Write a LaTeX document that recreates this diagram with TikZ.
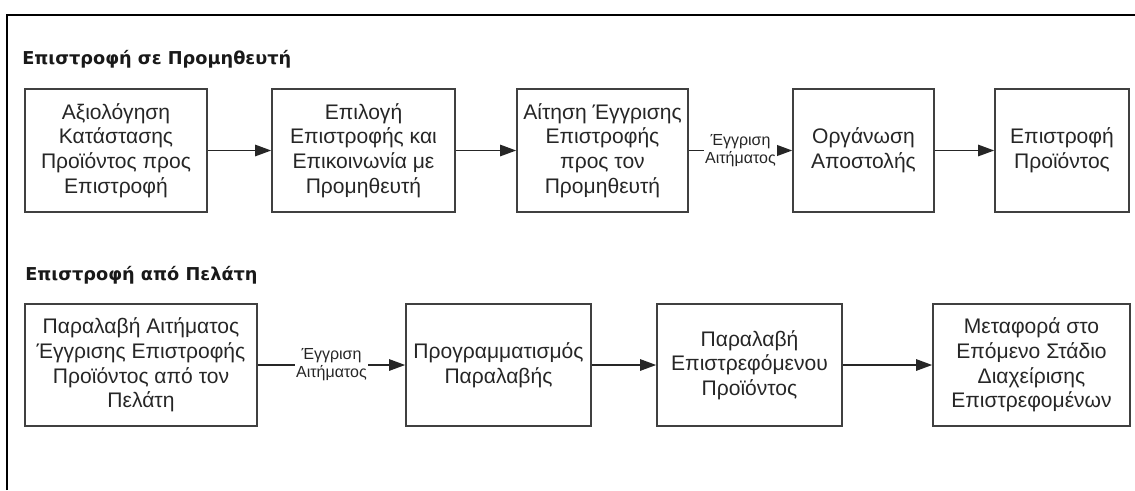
\documentclass[tikz,border=0pt]{standalone}
\usepackage{fontspec}
\setmainfont{Liberation Sans}
\newfontfamily\headfont{DejaVu Sans}
\usetikzlibrary{arrows.meta}
\begin{document}
\begin{tikzpicture}[x=0.75pt,y=-0.75pt,
  stepbox/.style={draw=black!75, line width=1.2pt, align=center, inner sep=2pt,
    text=black!85, font=\fontsize{15.8}{18.4}\selectfont},
  flow/.style={draw=black!85, line width=1.2pt, -{Triangle[length=12pt,width=8.5pt]}},
  edgelabel/.style={fill=white, inner sep=1pt, align=center, text=black!85,
    font=\fontsize{12}{13.5}\selectfont},
  heading/.style={anchor=west, inner sep=0pt, text=black!90,
    font=\headfont\bfseries\fontsize{13.3}{15}\selectfont},
  frame/.style={draw=black, line width=1.6pt}]
\useasboundingbox (0,0) rectangle (1135,490);
% frame
\draw[frame] (7,490) -- (7,15) -- (1135,15);

% upper process row
\node[heading] (h1) at (22,59) {Επιστροφή σε Προμηθευτή};
\node[stepbox, minimum width=136.5pt, minimum height=92.25pt] (a1) at (116,150.5)
  {Αξιολόγηση\\Κατάστασης\\Προϊόντος προς\\Επιστροφή};
\node[stepbox, minimum width=137.25pt, minimum height=92.25pt] (a2) at (363.5,150.5)
  {Επιλογή\\Επιστροφής και\\Επικοινωνία με\\Προμηθευτή};
\node[stepbox, minimum width=128.25pt, minimum height=92.25pt] (a3) at (602.5,150.5)
  {Αίτηση Έγγρισης\\Επιστροφής\\προς τον\\Προμηθευτή};
\node[stepbox, minimum width=105.75pt, minimum height=92.25pt] (a4) at (863.5,150.5)
  {Οργάνωση\\Αποστολής};
\node[stepbox, minimum width=100.5pt, minimum height=92.25pt] (a5) at (1062,150.5)
  {Επιστροφή\\Προϊόντος};

\draw[flow] (a1) -- (a2);
\draw[flow] (a2) -- (a3);
\draw[flow] (a3) -- node[edgelabel] {Έγγριση\\Αιτήματος} (a4);
\draw[flow] (a4) -- (a5);

% lower process row
\node[heading] (h2) at (25,275) {Επιστροφή από Πελάτη};
\node[stepbox, minimum width=174pt, minimum height=91.5pt] (b1) at (141,365)
  {Παραλαβή Αιτήματος\\Έγγρισης Επιστροφής\\Προϊόντος από τον\\Πελάτη};
\node[stepbox, minimum width=138.75pt, minimum height=91.5pt] (b2) at (498.5,365)
  {Προγραμματισμός\\Παραλαβής};
\node[stepbox, minimum width=138.75pt, minimum height=91.5pt] (b3) at (749.5,365)
  {Παραλαβή\\Επιστρεφόμενου\\Προϊόντος};
\node[stepbox, minimum width=147.75pt, minimum height=91.5pt] (b4) at (1031.5,365)
  {Μεταφορά στο\\Επόμενο Στάδιο\\Διαχείρισης\\Επιστρεφομένων};

\draw[flow] (b1) -- node[edgelabel] {Έγγριση\\Αιτήματος} (b2);
\draw[flow] (b2) -- (b3);
\draw[flow] (b3) -- (b4);
\end{tikzpicture}
\end{document}
